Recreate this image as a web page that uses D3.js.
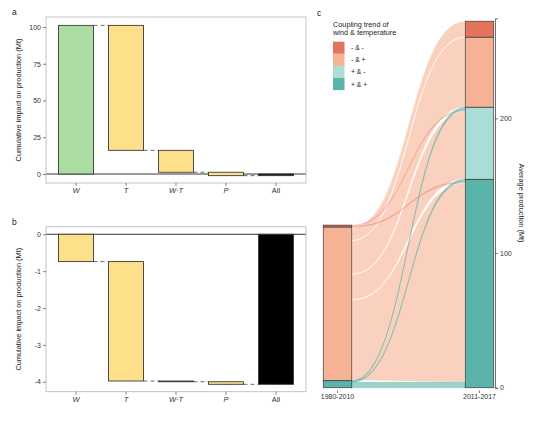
<!DOCTYPE html>
<html>
<head>
<meta charset="utf-8">
<script src="https://cdn.jsdelivr.net/npm/d3@7"></script>
<style>
  body { margin: 0; background: #fff; }
  svg { font-family: "Liberation Sans", Arial, sans-serif; }
</style>
</head>
<body>
<svg id="chart" width="536" height="425"></svg>
<script>
// waterfall panels
const effects = ["W", "T", "W·T", "P", "All"];
const impactA = [101.1, -85.0, -14.9, -2.3];
const impactB = [-0.74, -3.24, -0.02, -0.07];
const ticksA = [0, 25, 50, 75, 100];
const ticksB = [0, -1, -2, -3, -4];

// alluvial panel
const periods = ["1980-2010", "2011-2017"];
const trends = ["- & -", "- & +", "+ & -", "+ & +"];
const trendColors = ["#e3735a", "#f6b294", "#a9ddd5", "#5ab4aa"];
// one entry per alluvium: trend in each period and average production (Mt)
const flowFrom = ["- & -", "- & -", "- & +", "- & +", "- & +", "- & +", "+ & +", "+ & +", "+ & +"];
const flowTo = ["+ & -", "+ & +", "- & -", "- & +", "+ & -", "+ & +", "+ & -", "+ & +", "+ & +"];
const flowEarly = [0.7, 0.8, 10, 25, 19, 60, 0.6, 0.6, 4];
const flowLate = [1.2, 1.2, 11.9, 52, 50.5, 148, 1.8, 1.5, 4];
const lateOrder = [1, 1, 0, 0, 2, 2, 0, 0, 3];
const prodTicks = [0, 100, 200];

const svg = d3.select("#chart");
const posColor = "#abdda1", negColor = "#fee08b";

function waterfall(impacts, ticks, top, bottom, domain, tag) {
  const left = 46, right = 306;
  const x = d3.scaleBand().domain(effects).range([left, right])
    .paddingInner(0.3).paddingOuter(0.25);
  const y = d3.scaleLinear().domain(domain).range([bottom, top]);
  const g = svg.append("g");

  // bars
  let cum = 0;
  const bars = impacts.map((v, i) => {
    const b = { key: effects[i], start: cum, end: cum + v, fill: v > 0 ? posColor : negColor };
    cum += v;
    return b;
  });
  bars.push({ key: "All", start: 0, end: cum, fill: "#000" });

  g.append("line").attr("x1", left).attr("x2", right)
    .attr("y1", y(0)).attr("y2", y(0)).attr("stroke", "#000").attr("stroke-width", 0.8);

  g.selectAll("rect.bar").data(bars).join("rect")
    .attr("x", d => x(d.key)).attr("width", x.bandwidth())
    .attr("y", d => y(Math.max(d.start, d.end)))
    .attr("height", d => Math.abs(y(d.start) - y(d.end)))
    .attr("fill", d => d.fill).attr("stroke", "#3a3a3a").attr("stroke-width", 0.9);

  // connectors
  g.selectAll("line.conn").data(bars.slice(0, 4)).join("line")
    .attr("x1", d => x(d.key) + x.bandwidth())
    .attr("x2", (d, i) => x(effects[i + 1]))
    .attr("y1", d => y(d.end)).attr("y2", d => y(d.end))
    .attr("stroke", "#444").attr("stroke-width", 0.8).attr("stroke-dasharray", "4,3");

  // border
  g.append("rect").attr("x", left).attr("y", top)
    .attr("width", right - left).attr("height", bottom - top)
    .attr("fill", "none").attr("stroke", "#bdbdbd").attr("stroke-width", 0.9);

  // y axis
  const ya = g.append("g").attr("transform", `translate(${left},0)`)
    .call(d3.axisLeft(y).tickValues(ticks).tickFormat(d => String(d)).tickSize(3).tickPadding(2));
  ya.select(".domain").remove();
  ya.selectAll("line").attr("stroke", "#333").attr("stroke-width", 0.6);
  ya.selectAll("text").attr("font-size", 7).attr("fill", "#333");

  // x axis
  const xa = g.append("g").attr("transform", `translate(0,${bottom})`)
    .call(d3.axisBottom(x).tickSize(3).tickPadding(1.5));
  xa.select(".domain").remove();
  xa.selectAll("line").attr("stroke", "#333").attr("stroke-width", 0.6);
  xa.selectAll("text").attr("font-size", 7.5).attr("fill", "#333")
    .attr("font-style", d => d === "All" ? "normal" : "italic");

  g.append("text")
    .attr("transform", `translate(20.5,${(top + bottom) / 2}) rotate(-90)`)
    .attr("text-anchor", "middle").attr("font-size", 7.4).attr("fill", "#222")
    .text("Cumulative impact on production (Mt)");

  g.append("text").attr("x", 12).attr("y", top - 2).attr("font-size", 8.5)
    .attr("fill", "#222").text(tag);
}

waterfall(impactA, ticksA, 17, 183, [-6.1, 106.8], "a");
waterfall(impactB, ticksB, 226.7, 391.7, [-4.27, 0.206], "b");

// ---- panel c: alluvial ----
const xc = d3.scaleBand().domain(periods).range([323.3, 493.7]).paddingInner(0.8).paddingOuter(0);
const yc = d3.scaleLinear().domain([0, 274.3]).range([387.7, 18.3]);
const color = d3.scaleOrdinal().domain(trends).range(trendColors);
const bw = xc.bandwidth();

const flows = flowFrom.map((f, i) => ({ i, from: f, to: flowTo[i], early: flowEarly[i], late: flowLate[i], rank: lateOrder[i], lode: [] }));

// stack lodes top to bottom, strata in legend order
function stackLodes(side, stratumOf, valueOf, orderOf) {
  let cursor = d3.sum(flows, valueOf);
  const strata = [];
  trends.forEach(t => {
    const members = flows.filter(d => stratumOf(d) === t).sort((a, b) => orderOf(a) - orderOf(b));
    const sTop = cursor;
    members.forEach(d => {
      const v = valueOf(d);
      d.lode[side] = [cursor, cursor - v];
      cursor -= v;
    });
    if (sTop > cursor) strata.push({ trend: t, top: sTop, bottom: cursor });
  });
  return strata;
}
const strataEarly = stackLodes(0, d => d.from, d => d.early, d => d.i);
const strataLate = stackLodes(1, d => d.to, d => d.late, d => d.rank);

const x0 = xc(periods[0]) + bw, x1 = xc(periods[1]), xm = (x0 + x1) / 2;
function flowPath(d) {
  const [t0, b0] = d.lode[0].map(yc), [t1, b1] = d.lode[1].map(yc);
  return `M${x0},${t0}C${xm},${t0} ${xm},${t1} ${x1},${t1}` +
    `L${x1},${b1}C${xm},${b1} ${xm},${b0} ${x0},${b0}Z`;
}

const drawOrder = ["- & +", "- & -", "+ & +"];
const flowStyle = {
  "- & +": { stroke: "#fff", width: 0.8, opacity: 0.85, fill: 0.6 },
  "- & -": { stroke: trendColors[0], width: 0.35, opacity: 0.45, fill: 0.35 },
  "+ & +": { stroke: trendColors[3], width: 0.5, opacity: 0.7, fill: 0.6 }
};
const gc = svg.append("g");
gc.selectAll("path.flow")
  .data(flows.slice().sort((a, b) => drawOrder.indexOf(a.from) - drawOrder.indexOf(b.from)))
  .join("path")
  .attr("d", flowPath)
  .attr("fill", d => color(d.from)).attr("fill-opacity", d => flowStyle[d.from].fill)
  .attr("stroke", d => flowStyle[d.from].stroke)
  .attr("stroke-width", d => flowStyle[d.from].width)
  .attr("stroke-opacity", d => flowStyle[d.from].opacity);

[[periods[0], strataEarly], [periods[1], strataLate]].forEach(([p, strata]) => {
  gc.selectAll(null).data(strata).join("rect")
    .attr("x", xc(p)).attr("width", bw)
    .attr("y", d => yc(d.top)).attr("height", d => yc(d.bottom) - yc(d.top))
    .attr("fill", d => color(d.trend))
    .attr("stroke", "#333").attr("stroke-opacity", 0.85).attr("stroke-width", 0.8);
});

// right axis
const ra = gc.append("g").attr("transform", "translate(495,0)")
  .call(d3.axisRight(yc).tickValues(prodTicks).tickSize(3).tickPadding(2));
ra.select(".domain").attr("stroke", "#333").attr("stroke-width", 0.7);
ra.selectAll("line").attr("stroke", "#333").attr("stroke-width", 0.6);
ra.selectAll("text").attr("font-size", 7).attr("fill", "#333");

gc.append("text")
  .attr("transform", `translate(519,${(18.3 + 387.7) / 2}) rotate(90)`)
  .attr("text-anchor", "middle").attr("font-size", 7.4).attr("fill", "#222")
  .text("Average production (Mt)");

// bottom labels
const xa = gc.append("g").attr("transform", "translate(0,390.5)")
  .call(d3.axisBottom(xc).tickSize(2.5).tickPadding(1.5));
xa.select(".domain").remove();
xa.selectAll("line").attr("stroke", "#333").attr("stroke-width", 0.6);
xa.selectAll("text").attr("font-size", 7).attr("fill", "#333");

gc.append("text").attr("x", 317).attr("y", 16).attr("font-size", 8.5).attr("fill", "#222").text("c");

// legend
const lg = gc.append("g").attr("transform", "translate(333,0)");
lg.append("text").attr("y", 27).attr("font-size", 7.3).attr("fill", "#222").text("Coupling trend of");
lg.append("text").attr("y", 34.5).attr("font-size", 7.3).attr("fill", "#222").text("wind & temperature");
const items = lg.selectAll("g.item").data(trends).join("g")
  .attr("transform", (d, i) => `translate(0,${41.7 + i * 12.1})`);
items.append("rect").attr("width", 11.5).attr("height", 12.1).attr("fill", d => color(d));
items.append("text").attr("x", 18).attr("y", 8.5).attr("font-size", 6.8).attr("fill", "#222").text(d => d);
</script>
</body>
</html>
